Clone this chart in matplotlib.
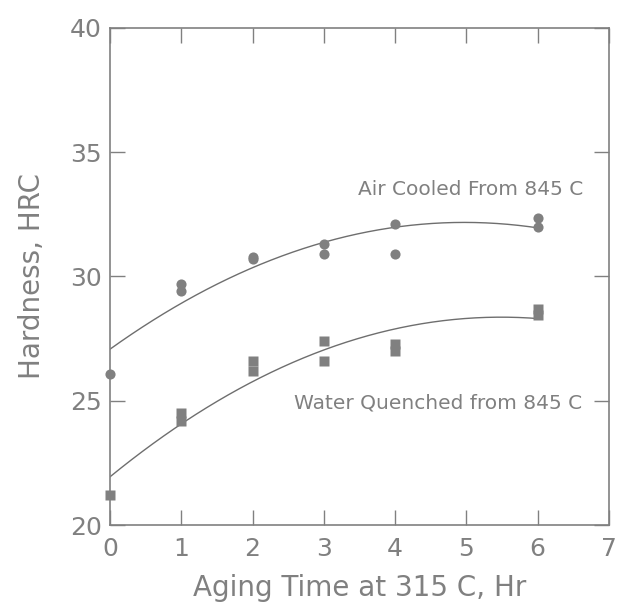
import numpy as np
import matplotlib.pyplot as plt

plt.rcParams['font.family'] = ['DejaVu Sans']

# Aging time (hr) and hardness (HRC)
air_time = [0, 1, 1, 2, 2, 3, 3, 4, 4, 6, 6]
air_hrc = [26.1, 29.7, 29.4, 30.7, 30.8, 31.3, 30.9, 32.1, 30.9, 32.35, 32.0]

water_time = [0, 1, 1, 2, 2, 3, 3, 4, 4, 6, 6]
water_hrc = [21.2, 24.5, 24.2, 26.6, 26.2, 27.4, 26.6, 27.3, 27.0, 28.7, 28.45]

grey = '#808080'

fig = plt.figure(figsize=(6.17, 6.02), dpi=100)
ax = fig.add_axes([0.1783, 0.1274, 0.8087, 0.8266])

# quadratic trend lines fitted to each series
xs = np.linspace(0, 6, 200)
for t, h in [(air_time, air_hrc), (water_time, water_hrc)]:
    c = np.polyfit(t, h, 2)
    ax.plot(xs, np.polyval(c, xs), color='#6e6e6e', lw=1.0)

ax.plot(air_time, air_hrc, 'o', color=grey, ms=7.3, mec='none', clip_on=False)
ax.plot(water_time, water_hrc, 's', color=grey, ms=7.9, mec='none', clip_on=False)

ax.text(5.064, 33.29, 'Air Cooled From 845 C', ha='center', va='baseline',
        fontsize=14.5, color=grey)
ax.text(4.605, 24.70, 'Water Quenched from 845 C', ha='center', va='baseline',
        fontsize=14.5, color=grey)

ax.set_xlim(0, 7)
ax.set_ylim(20, 40)
ax.set_xticks(range(0, 8))
ax.set_yticks([20, 25, 30, 35, 40])
ax.tick_params(direction='in', length=10.7, width=1.0, color=grey,
               labelcolor=grey, labelsize=18, top=True, right=True)
ax.tick_params(axis='x', pad=8.5)
ax.tick_params(axis='y', pad=6)
for s in ax.spines.values():
    s.set_color(grey)
    s.set_linewidth(1.2)

ax.set_xlabel('Aging Time at 315 C, Hr', fontsize=20, color=grey)
ax.set_ylabel('Hardness, HRC', fontsize=20, color=grey)
ax.xaxis.set_label_coords(0.5, -0.098)
ax.yaxis.set_label_coords(-0.1277, 0.5)

fig.savefig('out.png', dpi=100)
